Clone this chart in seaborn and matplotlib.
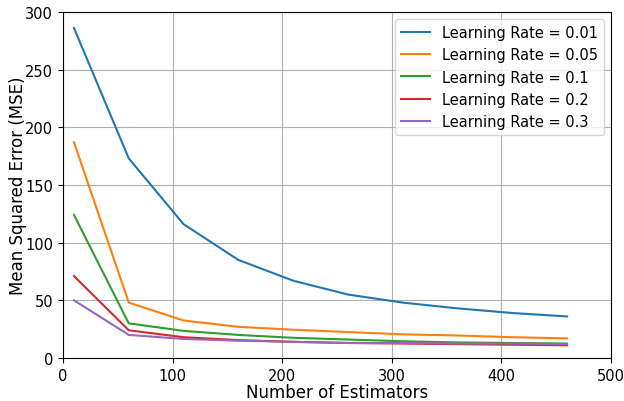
import pandas as pd
import matplotlib
matplotlib.use("Agg")
import matplotlib.pyplot as plt
import seaborn as sns

n_estimators = [10, 60, 110, 160, 210, 260, 310, 360, 410, 460]
learning_rates = ["0.01", "0.05", "0.1", "0.2", "0.3"]
mse_001 = [286, 173, 116, 85, 67, 55, 48, 43, 39, 36]
mse_005 = [187, 48, 32.5, 27, 24.5, 22.5, 20.5, 19.5, 18, 17]
mse_01 = [124, 30, 23.5, 20, 17.5, 16, 14.5, 13.5, 13, 12.5]
mse_02 = [71, 24, 18, 15.5, 14, 13, 12.5, 12, 11.5, 11]
mse_03 = [50, 20, 16.5, 15, 14, 13, 13, 12.5, 12.5, 12]

rows = []
for lr, vals in zip(learning_rates, [mse_001, mse_005, mse_01, mse_02, mse_03]):
    for n, v in zip(n_estimators, vals):
        rows.append({"n_estimators": n, "mse": v, "lr": f"Learning Rate = {lr}"})
df = pd.DataFrame(rows)

fig, ax = plt.subplots(figsize=(6.24, 4.02), dpi=100)
sns.lineplot(data=df, x="n_estimators", y="mse", hue="lr",
             palette="tab10", linewidth=1.5, ax=ax)

ax.set_xlim(0, 500)
ax.set_ylim(0, 300)
ax.grid(True, color="#b0b0b0", linewidth=0.8)
ax.set_xlabel("Number of Estimators", fontsize=12, labelpad=0)
ax.set_ylabel("Mean Squared Error (MSE)", fontsize=12, labelpad=-1)
ax.tick_params(labelsize=10.5)
ax.legend(title=None, fontsize=10.5, loc="upper right")

fig.subplots_adjust(left=0.101, right=0.979, top=0.968, bottom=0.107)
plt.savefig("out.png", dpi=100)
